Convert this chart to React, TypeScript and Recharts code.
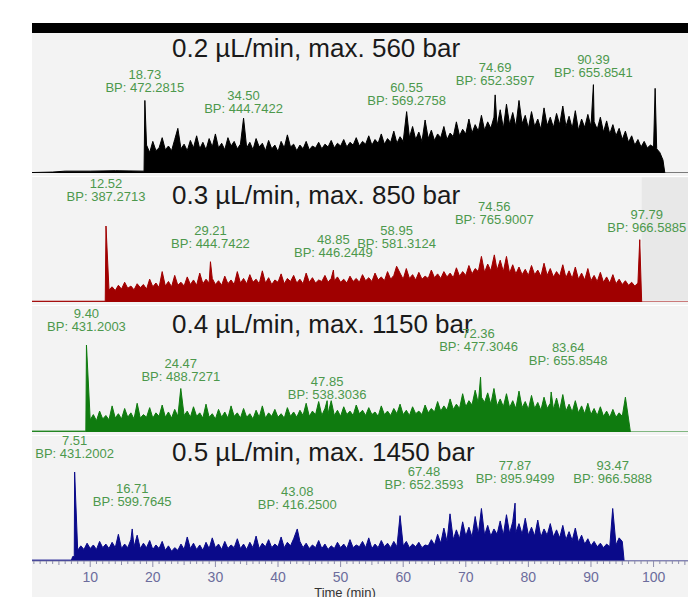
import React from 'react';
import { AreaChart, Area, XAxis, YAxis, ReferenceDot, ReferenceArea } from 'recharts';

// time axis (min) and grid spacing of the sampled traces
const X_MIN = 0.7;
const X_MAX = 105.5;
const STEP = 0.5;
const minuteTicks = Array.from({ length: 105 }, (_, i) => i + 1);

// ---- 0.2 uL/min (black) ----
const blackLeadTimes = [0.7, 4, 6, 10, 14, 18.6];
const blackLeadValues = [0.5, 1, 2, 2, 2.5, 2];
const blackStart = 19;
const blackEnd = 101.8;
const blackValues = [
  30, 22, 34, 24, 27, 38, 25, 29, 24, 36,
  48, 26, 31, 24, 35, 27, 40, 26, 33, 25,
  37, 28, 42, 27, 32, 25, 38, 29, 34, 26,
  31, 30, 27, 33, 25, 37, 28, 32, 24, 35,
  26, 30, 23, 34, 27, 41, 28, 31, 24, 30,
  26, 34, 25, 29, 27, 33, 26, 31, 28, 35,
  27, 32, 29, 36, 28, 33, 30, 38, 29, 34,
  31, 40, 30, 36, 32, 42, 31, 37, 33, 45,
  32, 39, 34, 35, 38, 50, 36, 44, 34, 57,
  37, 46, 35, 42, 38, 50, 36, 43, 39, 55,
  40, 47, 42, 58, 43, 52, 45, 62, 46, 55,
  48, 60, 50, 68, 48, 74, 52, 65, 50, 78,
  53, 62, 48, 66, 50, 58, 47, 70, 51, 60,
  49, 64, 52, 72, 50, 61, 48, 67, 46, 58,
  49, 63, 50, 55, 47, 60, 44, 56, 42, 52,
  40, 48, 36, 45, 33, 40, 30, 36, 28, 34,
  27, 30, 28, 26, 22, 14,
];
const blackPeakTimes = [18.73, 34.5, 60.55, 74.69, 90.39];
const blackPeakHeights = [78, 59, 66, 84, 95];
const blackPeakMasses = ['472.2815', '444.7422', '569.2758', '652.3597', '655.8541'];
const blackSpikeTimes = [100.25];
const blackSpikeHeights = [91];

// ---- 0.3 uL/min (red) ----
const redLeadTimes = [0.7, 12.4];
const redLeadValues = [1, 1];
const redStart = 13;
const redEnd = 98.1;
const redValues = [
  16, 20, 15, 22, 17, 26, 18, 21, 16, 24,
  19, 23, 17, 30, 20, 25, 19, 40, 21, 27,
  20, 35, 22, 26, 21, 33, 23, 29, 22, 38,
  24, 30, 25, 31, 23, 28, 22, 34, 24, 29,
  23, 40, 25, 31, 24, 36, 26, 30, 24, 41,
  25, 32, 23, 29, 26, 37, 24, 31, 27, 35,
  25, 30, 24, 38, 26, 32, 25, 29, 27, 35,
  26, 31, 28, 33, 26, 30, 25, 34, 27, 31,
  26, 36, 28, 32, 27, 38, 29, 33, 28, 40,
  30, 35, 31, 38, 30, 44, 31, 36, 29, 39,
  30, 34, 31, 42, 32, 37, 31, 40, 33, 38,
  32, 45, 34, 40, 35, 48, 37, 44, 40, 60,
  39, 50, 41, 45, 42, 55, 40, 60, 38, 49,
  37, 46, 36, 43, 35, 48, 36, 42, 34, 51,
  35, 44, 33, 40, 34, 49, 32, 41, 31, 46,
  30, 38, 29, 44, 28, 35, 27, 39, 26, 33,
  25, 36, 24, 30, 23, 28, 22, 26, 21, 25,
];
const redPeakTimes = [12.52, 29.21, 48.85, 58.95, 74.56, 97.79];
const redPeakHeights = [100, 53, 42, 47, 62, 82];
const redPeakMasses = ['387.2713', '444.7422', '446.2449', '581.3124', '765.9007', '966.5885'];

// ---- 0.4 uL/min (green) ----
const greenLeadTimes = [0.7, 9.3];
const greenLeadValues = [1, 1];
const greenStart = 10;
const greenEnd = 96.3;
const greenValues = [
  14, 20, 13, 24, 15, 19, 14, 30, 16, 21,
  15, 27, 17, 22, 15, 33, 16, 20, 17, 28,
  16, 22, 18, 31, 17, 23, 16, 26, 18, 20,
  19, 24, 17, 29, 18, 22, 16, 32, 17, 21,
  15, 26, 17, 23, 16, 30, 18, 22, 16, 27,
  17, 21, 15, 25, 17, 30, 16, 22, 18, 26,
  17, 21, 16, 28, 18, 23, 17, 25, 19, 33,
  18, 24, 20, 35, 19, 27, 21, 36, 19, 25,
  18, 29, 20, 24, 19, 31, 21, 25, 19, 28,
  20, 23, 18, 30, 20, 24, 19, 27, 21, 32,
  20, 25, 19, 29, 21, 24, 20, 31, 22, 27,
  23, 35, 24, 30, 25, 38, 26, 32, 27, 44,
  29, 36, 31, 48, 33, 40, 34, 45, 32, 50,
  30, 38, 29, 44, 28, 36, 27, 47, 28, 35,
  26, 42, 27, 34, 25, 40, 27, 33, 26, 39,
  25, 43, 24, 32, 23, 36, 22, 30, 21, 33,
  20, 27, 19, 29, 18, 24, 17, 26, 17, 22,
  18, 40, 15,
];
const greenPeakTimes = [9.4, 24.47, 47.85, 72.36, 83.64];
const greenPeakHeights = [100, 50, 36, 63, 46];
const greenPeakMasses = ['431.2003', '488.7271', '538.3036', '477.3046', '655.8548'];

// ---- 0.5 uL/min (blue) ----
const blueLeadTimes = [0.7, 7.0, 7.2, 7.45];
const blueLeadValues = [1, 1, 5, 5];
const blueStart = 8;
const blueEnd = 95.3;
const blueValues = [
  12, 17, 13, 20, 14, 18, 13, 22, 15, 19,
  14, 21, 15, 30, 14, 19, 15, 24, 16, 29,
  14, 20, 15, 23, 13, 18, 14, 22, 12, 17,
  11, 15, 12, 19, 13, 27, 14, 20, 13, 18,
  12, 21, 14, 26, 15, 19, 13, 22, 14, 18,
  15, 25, 14, 19, 13, 21, 15, 28, 14, 20,
  16, 24, 15, 19, 16, 27, 15, 21, 17, 25,
  16, 22, 15, 20, 14, 18, 15, 23, 14, 19,
  13, 17, 14, 21, 15, 19, 14, 24, 15, 18,
  16, 22, 15, 26, 14, 19, 15, 23, 16, 20,
  15, 22, 16, 51, 17, 22, 15, 19, 16, 21,
  15, 18, 17, 24, 18, 30, 20, 37, 22, 30,
  24, 35, 25, 44, 28, 38, 27, 50, 30, 59,
  29, 40, 28, 36, 30, 45, 29, 52, 31, 44,
  32, 42, 30, 48, 29, 38, 28, 46, 27, 36,
  29, 42, 27, 35, 26, 40, 24, 33, 23, 37,
  21, 29, 19, 25, 17, 22, 16, 20, 15, 19,
  16, 25, 18, 26, 22,
];
const bluePeakTimes = [7.51, 16.71, 43.08, 67.48, 77.87, 93.47];
const bluePeakHeights = [100, 36, 36, 53, 65, 59];
const bluePeakMasses = ['431.2002', '599.7645', '416.2500', '652.3593', '895.9499', '966.5888'];

// where each peak annotation sits relative to its apex (px: up, right)
const blackLabelLift = [0, -3, -1, 2, 0];
const blackLabelShift = [0, 0, 0, 0, 0];
const redLabelLift = [17, 6, 5, 10, 23, 0];
const redLabelShift = [0, 0, 0, 0, 0, 7];
const greenLabelLift = [6, 0, -6, 18, 19];
const greenLabelShift = [0, 0, 0, -2, 17];
const blueLabelLift = [6, 15, 12, 17, 12, 17];
const blueLabelShift = [0, 0, 0, -26, 0, 0];

const LABEL_GREEN = '#4c984c';
const FONT = '"Liberation Sans", Arial, sans-serif';

interface Pt {
  t: number;
  v: number;
}

const buildTrace = (
  leadTimes: number[],
  leadValues: number[],
  start: number,
  values: number[],
  peakTimes: number[],
  peakHeights: number[],
  end: number,
  spikeTimes: number[] = [],
  spikeHeights: number[] = []
): Pt[] => {
  const peaks = peakTimes
    .map((t, i) => ({ t, v: peakHeights[i] }))
    .concat(spikeTimes.map((t, i) => ({ t, v: spikeHeights[i] })));
  const grid = values
    .map((v, i) => ({ t: start + i * STEP, v }))
    .filter((p) => p.t < end && !peaks.some((q) => Math.abs(q.t - p.t) < 0.1));
  const lead = leadTimes.map((t, i) => ({ t, v: leadValues[i] }));
  return [...lead, ...peaks, ...grid, { t: end, v: 0 }, { t: X_MAX, v: 0 }].sort(
    (a, b) => a.t - b.t
  );
};

const peakLabel = (time: number, mass: string, lift: number, shift: number) => (props: any) => {
  const { cx, cy } = props;
  const x = cx + shift;
  const y = cy - lift;
  return (
    <g>
      <text x={x} y={y - 21} textAnchor="middle" fill={LABEL_GREEN} fontSize={13}>
        {time.toFixed(2)}
      </text>
      <text x={x} y={y - 8} textAnchor="middle" fill={LABEL_GREEN} fontSize={13}>
        BP: {mass}
      </text>
    </g>
  );
};

const TimeTick = (props: any) => {
  const { x, y, payload } = props;
  const v = payload.value;
  const len = v % 10 === 0 ? 6 : v % 5 === 0 ? 4 : 3;
  return (
    <g>
      <line x1={x} x2={x} y1={y} y2={y + len} stroke="#8c8cab" />
      {v % 10 === 0 && (
        <text x={x} y={y + 21} textAnchor="middle" fill="#6c6c9c" fontSize={14}>
          {v}
        </text>
      )}
    </g>
  );
};

const TimeLabel = (props: any) => {
  const { viewBox } = props;
  return (
    <text
      x={viewBox.x + viewBox.width / 2 - 15}
      y={viewBox.y + 36}
      textAnchor="middle"
      fill="#333"
      fontSize={13}
    >
      Time (min)
    </text>
  );
};

interface PanelProps {
  top: number;
  height: number;
  marginTop: number;
  marginBottom: number;
  data: Pt[];
  color: string;
  peakTimes: number[];
  peakHeights: number[];
  peakMasses: string[];
  labelLift: number[];
  labelShift: number[];
  showAxis?: boolean;
  children?: React.ReactNode;
}

function Panel({
  top,
  height,
  marginTop,
  marginBottom,
  data,
  color,
  peakTimes,
  peakHeights,
  peakMasses,
  labelLift,
  labelShift,
  showAxis,
  children,
}: PanelProps) {
  return (
    <div style={{ position: 'absolute', left: 32, top }}>
      <AreaChart
        width={656}
        height={height}
        data={data}
        margin={{ top: marginTop, right: 0, bottom: marginBottom, left: 0 }}
      >
        <XAxis
          dataKey="t"
          type="number"
          domain={[X_MIN, X_MAX]}
          allowDataOverflow
          hide={!showAxis}
          ticks={minuteTicks}
          interval={0}
          tick={<TimeTick />}
          tickLine={false}
          tickSize={0}
          tickMargin={0}
          height={40}
          axisLine={{ stroke: '#8c8cab' }}
          label={showAxis ? <TimeLabel /> : undefined}
        />
        <YAxis type="number" domain={[0, 100]} allowDataOverflow hide />
        {children}
        <Area
          type="linear"
          dataKey="v"
          stroke={color}
          strokeWidth={1}
          fill={color}
          fillOpacity={1}
          dot={false}
          activeDot={false}
          isAnimationActive={false}
        />
        {peakTimes.map((t, i) => (
          <ReferenceDot
            key={t}
            x={t}
            y={peakHeights[i]}
            r={1}
            shape={peakLabel(t, peakMasses[i], labelLift[i], labelShift[i])}
          />
        ))}
      </AreaChart>
    </div>
  );
}

const titleStyle = (top: number): React.CSSProperties => ({
  position: 'absolute',
  left: 172,
  top,
  fontSize: 26,
  lineHeight: '26px',
  color: '#1a1a1a',
  fontFamily: FONT,
  whiteSpace: 'nowrap',
});

const boxStyle = (top: number, height: number): React.CSSProperties => ({
  position: 'absolute',
  left: 32,
  top,
  width: 656,
  height,
  background: '#f3f3f3',
});

export default function App() {
  const black = buildTrace(
    blackLeadTimes, blackLeadValues, blackStart, blackValues,
    blackPeakTimes, blackPeakHeights, blackEnd, blackSpikeTimes, blackSpikeHeights
  );
  const red = buildTrace(
    redLeadTimes, redLeadValues, redStart, redValues, redPeakTimes, redPeakHeights, redEnd
  );
  const green = buildTrace(
    greenLeadTimes, greenLeadValues, greenStart, greenValues,
    greenPeakTimes, greenPeakHeights, greenEnd
  );
  const blue = buildTrace(
    blueLeadTimes, blueLeadValues, blueStart, blueValues, bluePeakTimes, bluePeakHeights, blueEnd
  );

  return (
    <div
      style={{
        position: 'relative',
        width: 688,
        height: 597,
        background: '#fff',
        overflow: 'hidden',
        fontFamily: FONT,
      }}
    >
      <style>{'body{margin:0}'}</style>
      <div style={boxStyle(33, 143)} />
      <div style={boxStyle(177, 128)} />
      <div style={boxStyle(306, 129)} />
      <div style={boxStyle(436, 161)} />
      <div style={{ position: 'absolute', left: 32, top: 23, width: 656, height: 10, background: '#000' }} />

      <div style={titleStyle(35)}>0.2 µL/min, max. 560 bar</div>
      <div style={titleStyle(182)}>0.3 µL/min, max. 850 bar</div>
      <div style={titleStyle(311)}>0.4 µL/min, max. 1150 bar</div>
      <div style={titleStyle(439)}>0.5 µL/min, max. 1450 bar</div>

      <Panel
        top={33} height={143} marginTop={47} marginBottom={3}
        data={black} color="#000000"
        peakTimes={blackPeakTimes} peakHeights={blackPeakHeights} peakMasses={blackPeakMasses}
        labelLift={blackLabelLift} labelShift={blackLabelShift}
      />
      <Panel
        top={177} height={128} marginTop={49} marginBottom={3}
        data={red} color="#a00000"
        peakTimes={redPeakTimes} peakHeights={redPeakHeights} peakMasses={redPeakMasses}
        labelLift={redLabelLift} labelShift={redLabelShift}
      >
        <ReferenceArea x1={redEnd} x2={X_MAX} y1={1.5} y2={164} ifOverflow="visible" fill="#e8e8e8" fillOpacity={1} />
      </Panel>
      <Panel
        top={306} height={129} marginTop={39} marginBottom={3}
        data={green} color="#0f7b0f"
        peakTimes={greenPeakTimes} peakHeights={greenPeakHeights} peakMasses={greenPeakMasses}
        labelLift={greenLabelLift} labelShift={greenLabelShift}
      />
      <Panel
        top={426} height={175} marginTop={46} marginBottom={0}
        data={blue} color="#0a0a8a"
        peakTimes={bluePeakTimes} peakHeights={bluePeakHeights} peakMasses={bluePeakMasses}
        labelLift={blueLabelLift} labelShift={blueLabelShift}
        showAxis
      />
    </div>
  );
}
